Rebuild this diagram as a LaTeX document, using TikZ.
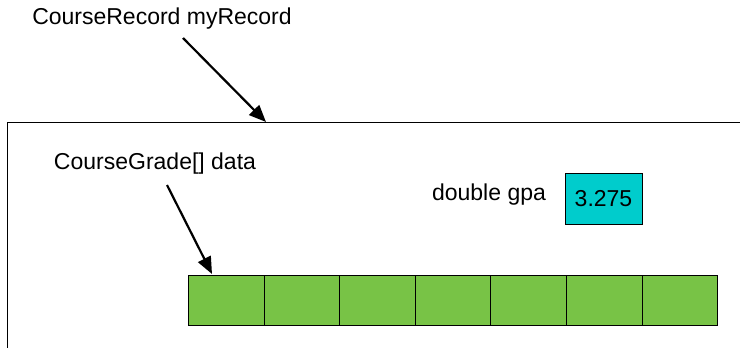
\documentclass[tikz,border=0pt]{standalone}
\usepackage{fontspec}
\setmainfont{Liberation Sans}
\usetikzlibrary{arrows.meta}

\definecolor{cellgreen}{RGB}{120,195,70}
\definecolor{gpacyan}{RGB}{0,204,204}

\begin{document}
\begin{tikzpicture}[x=1pt,y=-1pt,
  font=\fontsize{23}{27}\selectfont,
  cell/.style={draw,fill=cellgreen,minimum width=75.6pt,minimum height=50pt,inner sep=0pt,anchor=north west},
  arr/.style={draw,line width=2.2pt,-{Triangle[length=17pt,width=14pt]}}]
\useasboundingbox (0,0) rectangle (740,348);
\clip (0,0) rectangle (740,348);

\node[draw,thick,minimum width=780pt,minimum height=260pt,anchor=north west] (rec) at (7,122) {};
\node (reclabel) at (162,19) {CourseRecord myRecord};
\coordinate (rectop) at (266,122);
\path[arr] (183,38) -- (rectop);

\node (datalabel) at (155,164) {CourseGrade[] data};
\node (gpalabel) at (489,195) {double gpa};
\node[draw,fill=gpacyan,minimum width=77pt,minimum height=51pt,inner sep=0pt] (gpa) at (603.5,198.5) {3.275};

\foreach \i in {1,...,7}
  \node[cell] (c\i) at (188+75.6*\i-75.6,275) {};
\coordinate (cellpt) at (212,274);
\path[arr] (167,185) -- (cellpt);
\end{tikzpicture}
\end{document}
